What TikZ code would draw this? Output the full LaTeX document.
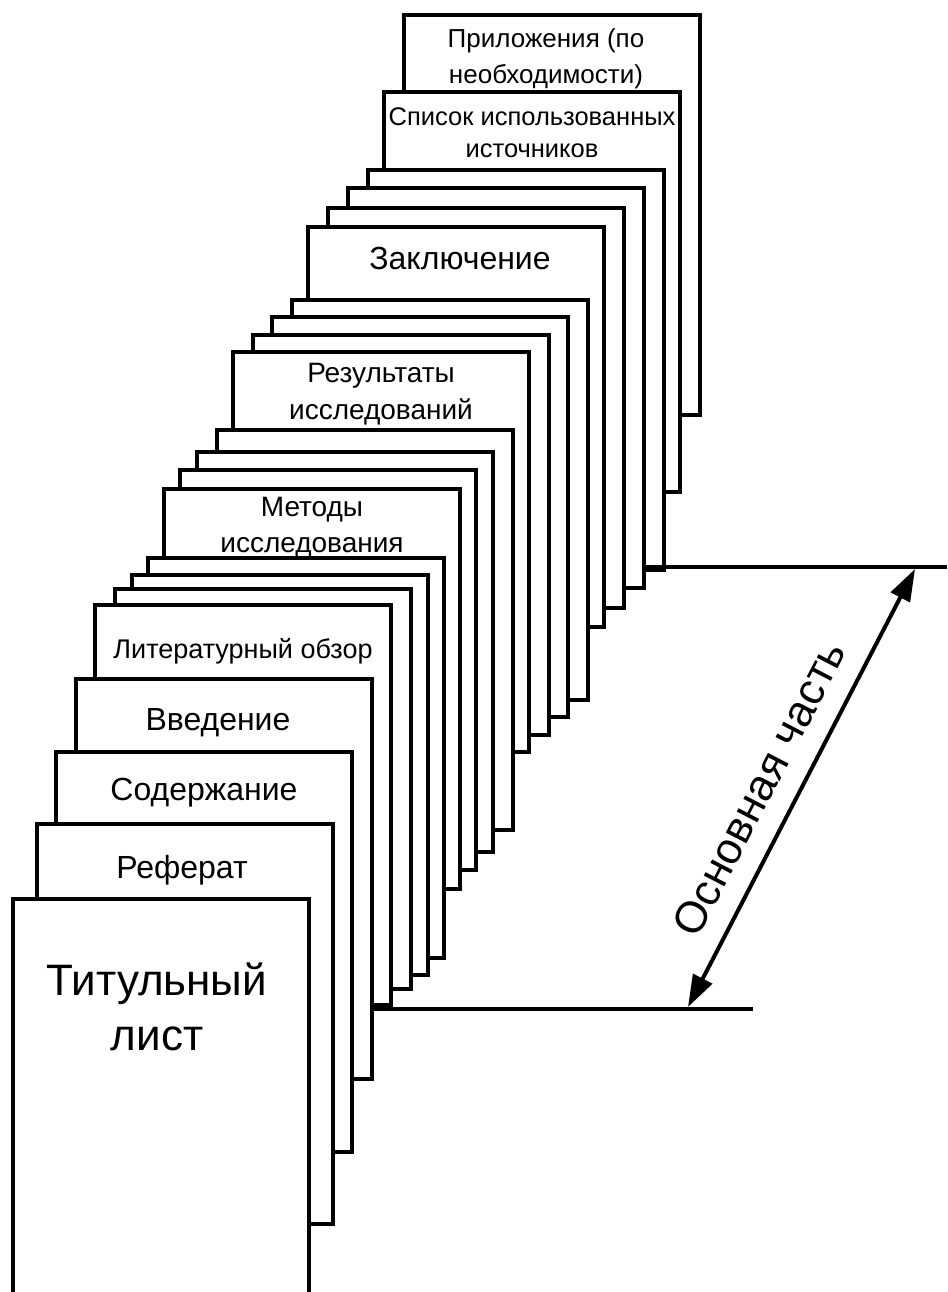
\documentclass[tikz,border=0pt]{standalone}
\usepackage{fontspec}
\setmainfont{Liberation Sans}
\usepackage{tikz}
\usetikzlibrary{positioning,shapes,arrows,arrows.meta,calc}

\begin{document}
\begin{tikzpicture}[x=1pt,y=-1pt,
    page/.style={draw, fill=white, line width=4.5pt, minimum width=296pt, minimum height=400pt, inner sep=0pt, outer sep=0pt},
    caption/.style={anchor=north, inner sep=0pt, align=center},
    rule/.style={line width=4.5pt},
    span/.style={line width=4pt, {Triangle[length=32pt,width=21pt]}-{Triangle[length=32pt,width=21pt]}}]
\useasboundingbox (0,0) rectangle (947,1292);
\clip (0,0) rectangle (947,1292);
\foreach \n/\x/\y in {22/404/15, 21/384/92, 20/368/170, 19/348/188, 18/328/208, 17/308/227,
    16/292/300, 15/272/317, 14/253/335, 13/233/352, 12/217/430, 11/197/452, 10/180/470,
    9/164/489, 8/148/558, 7/132/575, 6/115/589, 5/95/605, 4/76/679, 3/56/752, 2/37/824, 1/13/899}
    \node[page] (p\n) at (\x+148,\y+200) {};
\node[caption, font=\fontsize{44}{55}\selectfont] at ([xshift=-4pt,yshift=-64pt]p1.north) {Титульный\\лист};
\node[caption, font=\fontsize{32}{38}\selectfont] at ([xshift=-3pt,yshift=-31pt]p2.north) {Реферат};
\node[caption, font=\fontsize{32}{38}\selectfont] at ([yshift=-26pt]p3.north) {Содержание};
\node[caption, font=\fontsize{32}{38}\selectfont] at ([xshift=-6pt,yshift=-29pt]p4.north) {Введение};
\node[caption, font=\fontsize{27}{32}\selectfont] at ([yshift=-33pt]p5.north) {Литературный обзор};
\node[caption, font=\fontsize{28}{36}\selectfont] at ([yshift=-8pt]p9.north) {Методы\\исследования};
\node[caption, font=\fontsize{28}{37}\selectfont] at ([yshift=-11pt]p13.north) {Результаты\\исследований};
\node[caption, font=\fontsize{32}{38}\selectfont] at ([xshift=4pt,yshift=-20pt]p17.north) {Заключение};
\node[caption, font=\fontsize{25.5}{32}\selectfont] at ([yshift=-15pt]p21.north) {Список использованных\\источников};
\node[caption, font=\fontsize{26}{36}\selectfont] at ([xshift=-6pt,yshift=-13pt]p22.north) {Приложения (по\\необходимости)};
\coordinate (hiEnd) at (947,567);
\coordinate (loEnd) at (753,1009);
\coordinate (hiTip) at (915,569);
\coordinate (loTip) at (688,1007);
\draw[rule] (p19.east |- hiEnd) -- (hiEnd);
\draw[rule] (p4.east |- loEnd) -- (loEnd);
\draw[span] (loTip) -- node[sloped, pos=0.46, above=20pt, inner sep=0pt, font=\fontsize{44}{50}\selectfont] {Основная часть} (hiTip);
\end{tikzpicture}
\end{document}
